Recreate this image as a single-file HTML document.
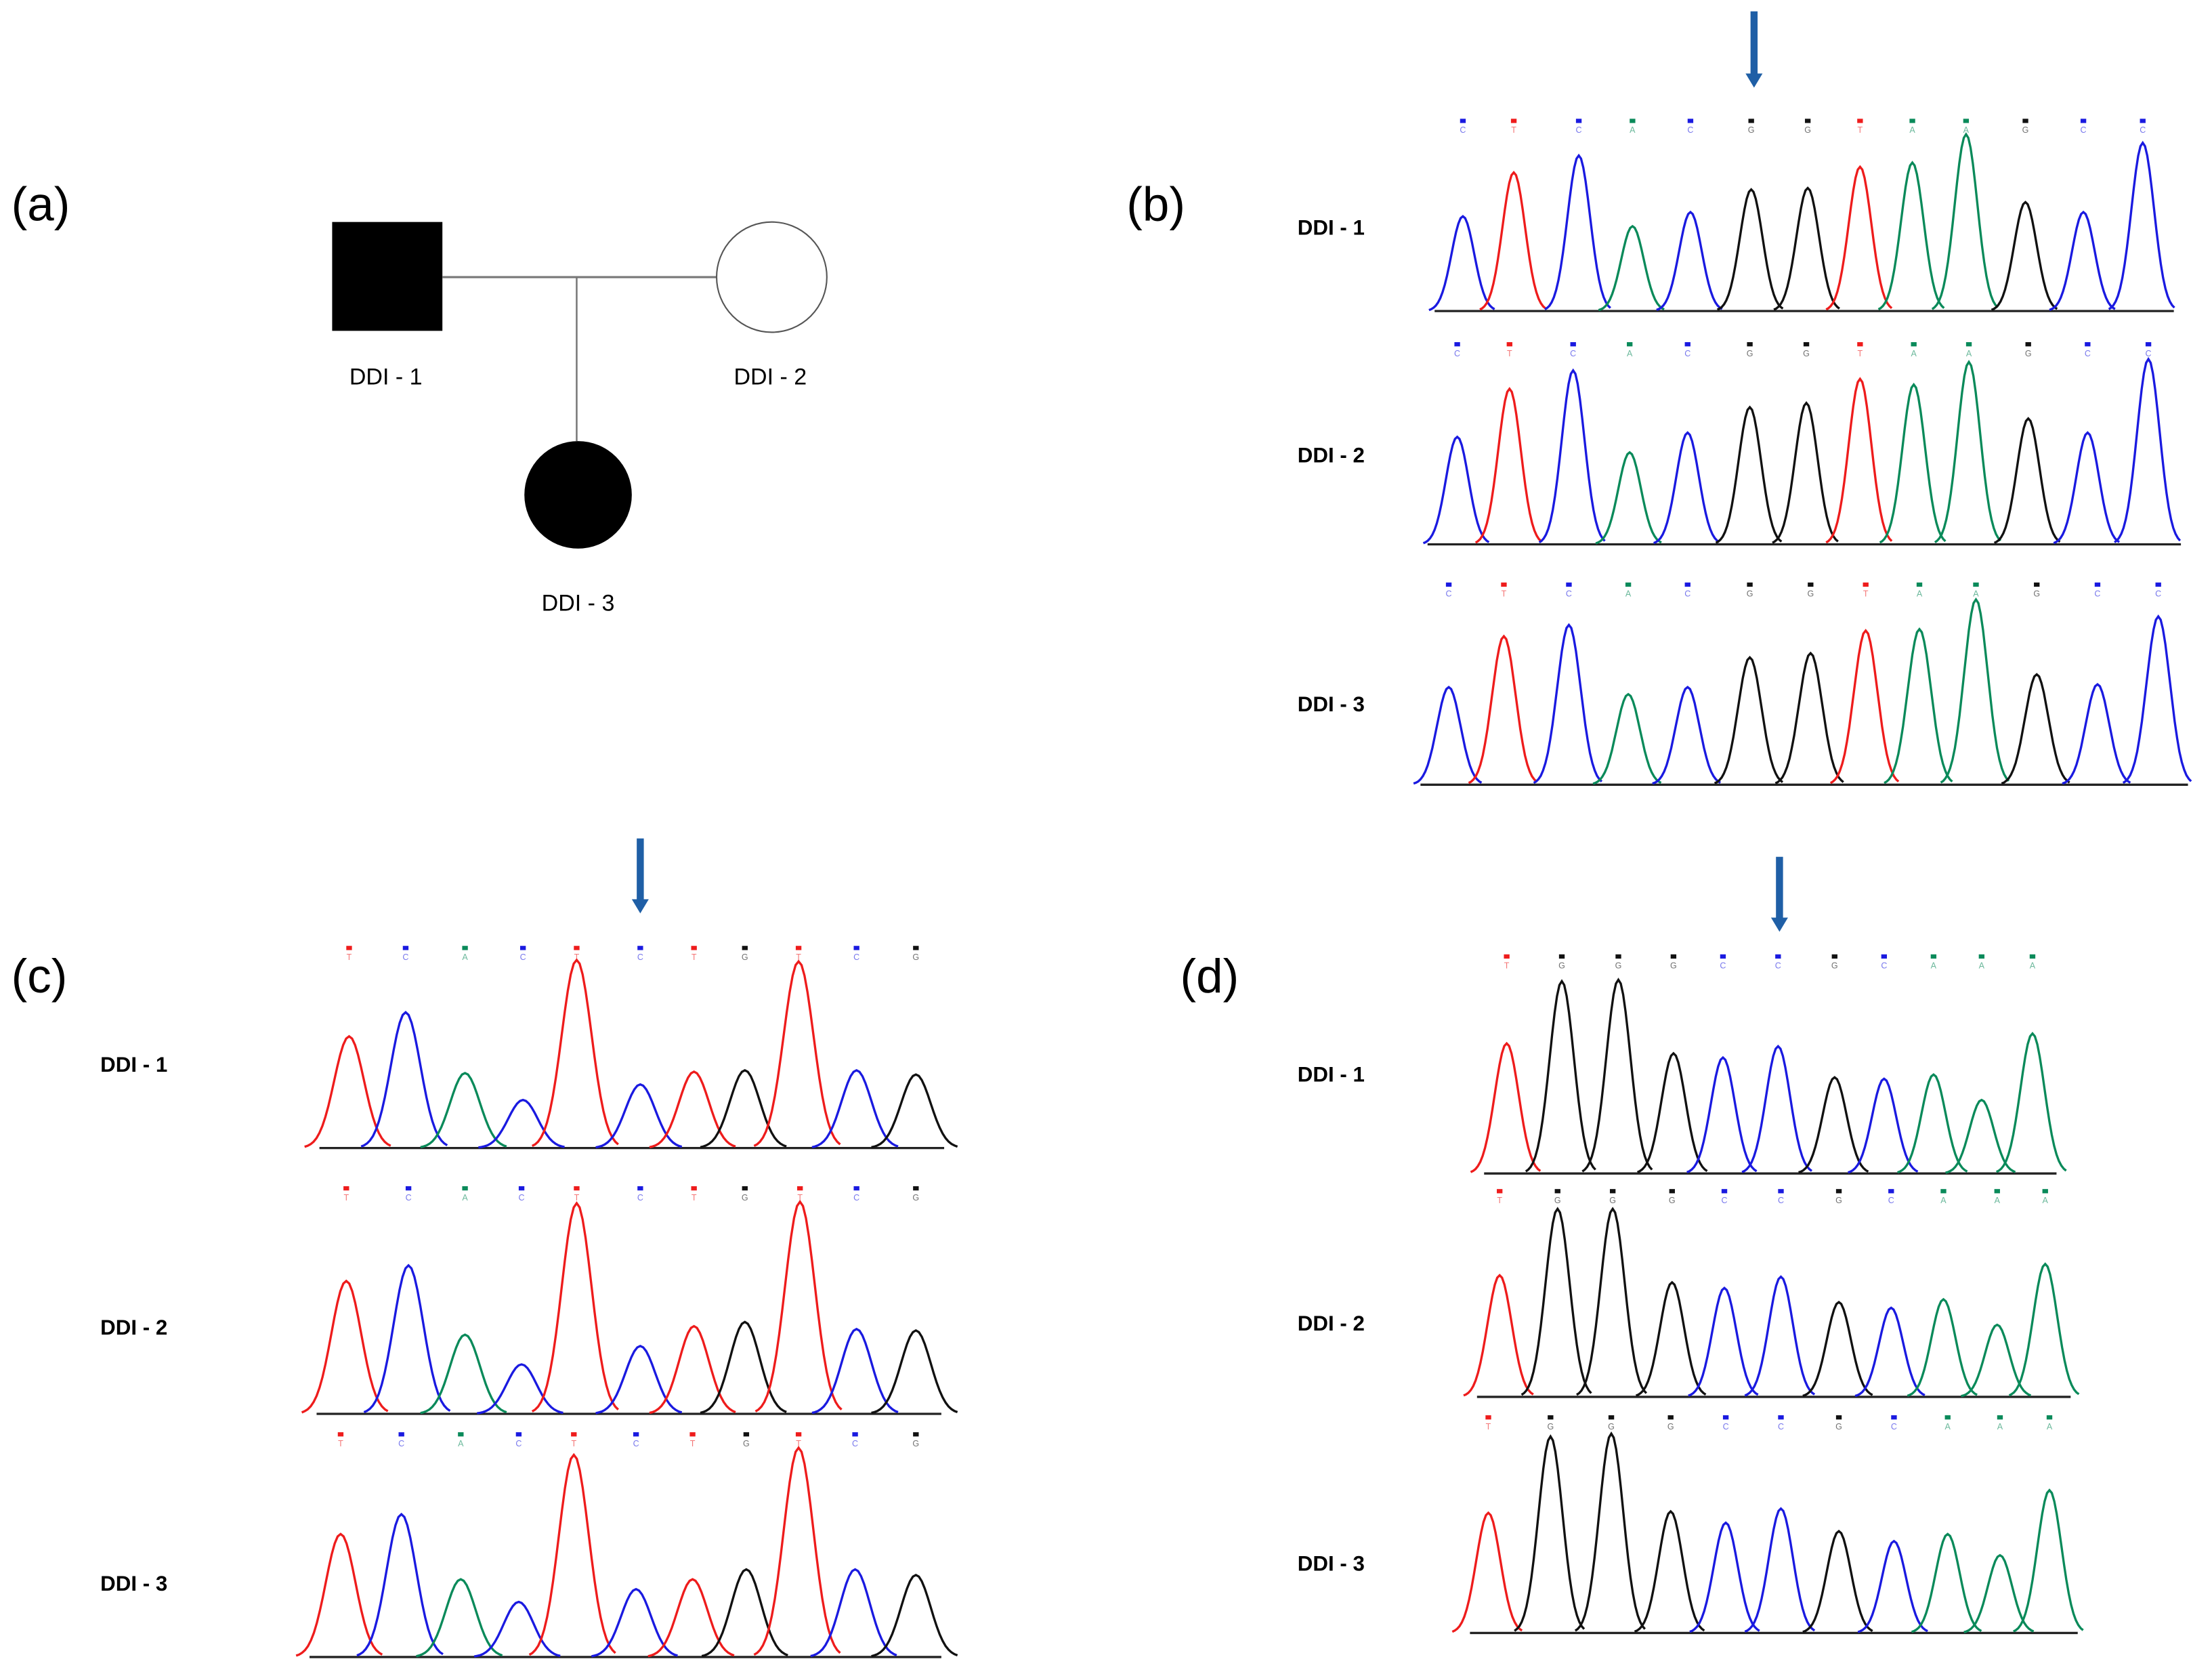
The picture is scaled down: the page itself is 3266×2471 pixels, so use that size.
<!DOCTYPE html>
<html><head><meta charset="utf-8"><style>
html,body{margin:0;padding:0;background:#fff;}
svg{display:block;}
text{font-family:"Liberation Sans",sans-serif;}
</style></head><body>
<svg id="s" width="3266" height="2471" viewBox="0 0 1565 1184" preserveAspectRatio="none" xmlns="http://www.w3.org/2000/svg">
<rect width="1570" height="1190" fill="#fff"/>
<text x="8" y="156" font-size="34">(a)</text>
<text x="797" y="156" font-size="34">(b)</text>
<text x="8" y="702" font-size="34">(c)</text>
<text x="835" y="702" font-size="34">(d)</text>
<rect x="235" y="157" width="78" height="77" fill="#000"/>
<line x1="313" y1="196" x2="507" y2="196" stroke="#777" stroke-width="1.5"/>
<line x1="408" y1="196" x2="408" y2="312" stroke="#777" stroke-width="1.2"/>
<circle cx="546" cy="196" r="39" fill="#fff" stroke="#555" stroke-width="1"/>
<circle cx="409" cy="350" r="38" fill="#000"/>
<text x="273" y="272" font-size="16.3" text-anchor="middle">DDI - 1</text>
<text x="545" y="272" font-size="16.3" text-anchor="middle">DDI - 2</text>
<text x="409" y="432" font-size="16.3" text-anchor="middle">DDI - 3</text>
<g font-size="15" font-weight="bold">
<text x="918" y="166">DDI - 1</text><text x="918" y="327">DDI - 2</text><text x="918" y="503">DDI - 3</text>
<text x="71" y="758">DDI - 1</text><text x="71" y="944">DDI - 2</text><text x="71" y="1125">DDI - 3</text>
<text x="918" y="765">DDI - 1</text><text x="918" y="941">DDI - 2</text><text x="918" y="1111">DDI - 3</text>
</g>
<g id="g"></g>
</svg>
<script>
var g=document.getElementById('g'),NS='http://www.w3.org/2000/svg';
var C={C:'#1a1ae0',T:'#ee1c1c',A:'#0a8a5a',G:'#111'};
function el(n,a){var e=document.createElementNS(NS,n);for(var k in a)e.setAttribute(k,a[k]);g.appendChild(e);return e;}
function arrow(x,y1,y2){el('line',{x1:x,y1:y1,x2:x,y2:y2-8,stroke:'#1f5fa6','stroke-width':5});el('polygon',{points:(x-6)+','+(y2-10)+' '+(x+6)+','+(y2-10)+' '+x+','+y2,fill:'#1f5fa6'});}
function trace(seq,xs,tops,base,x0,x1,my,sig){
 el('line',{x1:x0,y1:base,x2:x1,y2:base,stroke:'#222','stroke-width':1.6});
 for(var i=0;i<seq.length;i++){var c=seq[i],x=xs[i],h=base-tops[i],p='';
  for(var t=-3.0;t<=3.0;t+=0.2){var px=x+t*sig,py=base-h*Math.exp(-t*t/2);p+=(p?'L':'M')+px.toFixed(1)+','+py.toFixed(1);}
  el('path',{d:p,fill:'none',stroke:C[c],'stroke-width':1.6});
  el('rect',{x:x-2,y:my-3,width:4,height:3,fill:C[c]});
  var t2=el('text',{x:x,y:my+7,'font-size':6,'text-anchor':'middle',fill:C[c],opacity:0.6});t2.textContent=c;}
}
var sb='CTCACGGTAAGCC';
trace(sb,[1035,1071,1117,1155,1196,1239,1279,1316,1353,1391,1433,1474,1516],[153,122,110,160,150,134,133,118,115,95,143,150,101],220,1015,1538,87,8);
trace(sb,[1031,1068,1113,1153,1194,1238,1278,1316,1354,1393,1435,1477,1520],[309,275,262,320,306,288,285,268,272,256,296,306,254],385,1010,1543,245,8);
trace(sb,[1025,1064,1110,1152,1194,1238,1281,1320,1358,1398,1441,1484,1527],[486,450,442,491,486,465,462,446,445,424,477,484,436],555,1005,1548,415,8.3);
var sc='TCACTCTGTCG';
trace(sc,[247,287,329,370,408,453,491,527,565,606,648],[733,716,759,778,679,767,758,757,680,757,760],812,226,668,672,10.5);
trace(sc,[245,289,329,369,408,453,491,527,566,606,648],[906,895,944,965,851,952,938,935,850,940,941],1000,224,666,842,10.5);
trace(sc,[241,284,326,367,406,450,490,528,565,605,648],[1085,1071,1117,1133,1029,1124,1117,1110,1024,1110,1114],1172,219,666,1016,10.5);
var sd='TGGGCCGCAAA';
trace(sd,[1066,1105,1145,1184,1219,1258,1298,1333,1368,1402,1438],[738,694,693,745,748,740,762,763,760,778,731],830,1050,1455,678,8.5);
trace(sd,[1061,1102,1141,1183,1220,1260,1301,1338,1375,1413,1447],[902,855,855,907,911,903,921,925,919,937,894],988,1045,1465,844,8.5);
trace(sd,[1053,1097,1140,1182,1221,1260,1301,1340,1378,1415,1450],[1070,1016,1014,1069,1077,1067,1083,1090,1085,1100,1054],1155,1040,1470,1004,8.5);
arrow(1241,8,62);arrow(453,593,646);arrow(1259,606,659);
</script>
</body></html>
